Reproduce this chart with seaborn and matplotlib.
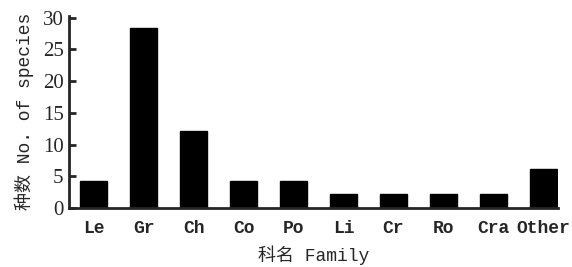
import numpy as np
import pandas as pd
import matplotlib
matplotlib.use("Agg")
import matplotlib.pyplot as plt
import seaborn as sns

# Dados
families = ["Le", "Gr", "Ch", "Co", "Po", "Li", "Cr", "Ro", "Cra", "Other"]
species = [4.3, 28.3, 12.2, 4.3, 4.3, 2.2, 2.2, 2.2, 2.2, 6.1]
yticks = [0, 5, 10, 15, 20, 25, 30]

df = pd.DataFrame({"family": families, "n": species})

sns.set_style("ticks")
fonts = ["Liberation Mono", "Noto Sans CJK SC", "DejaVu Sans"]
plt.rcParams["font.family"] = fonts

fig = plt.figure(figsize=(5.72, 2.67), dpi=100)
ax = fig.add_axes([0.121, 0.221, 0.855, 0.72])

sns.barplot(data=df, x="family", y="n", color="black", width=0.55,
            saturation=1, ax=ax, edgecolor="black")

ax.set_xlim(-0.49, 9.3)
ax.set_ylim(0, 30.3)
ax.set_yticks(yticks)
ax.tick_params(axis="y", direction="in", length=5, width=2, pad=4)
ax.tick_params(axis="x", length=0, pad=9)
for lab in ax.get_xticklabels():
    lab.set_fontsize(13)
    lab.set_fontweight("bold")
for lab in ax.get_yticklabels():
    lab.set_fontsize(15)
    lab.set_family(["Liberation Serif", "DejaVu Serif"])

ax.set_xlabel("科名 Family", fontsize=13, labelpad=6)
ax.set_ylabel("种数 No. of species", fontsize=13, labelpad=6)

sns.despine(ax=ax)
ax.spines["left"].set_linewidth(2)
ax.spines["bottom"].set_linewidth(2)

fig.savefig("out.png", dpi=100)
